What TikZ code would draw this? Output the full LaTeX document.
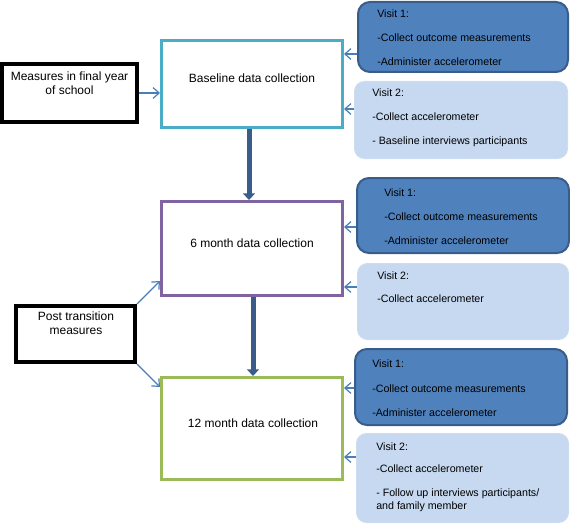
\documentclass[tikz,border=0pt]{standalone}
\usepackage{fontspec}
\setmainfont{Liberation Sans}
\usetikzlibrary{arrows.meta}

\definecolor{basecol}{HTML}{4BACC6}
\definecolor{sixcol}{HTML}{8064A2}
\definecolor{twelvecol}{HTML}{9BBB59}
\definecolor{visitdark}{HTML}{4F81BD}
\definecolor{visitedge}{HTML}{385D8A}
\definecolor{visitlight}{HTML}{C6D9F1}
\definecolor{arrowcol}{HTML}{4A7EBB}

\begin{document}
\begin{tikzpicture}[x=0.75pt,y=0.75pt,yscale=-1,xscale=1,
  stagebox/.style={draw=#1, line width=2.25pt, inner sep=0pt, minimum width=135.75pt},
  sidebox/.style={draw=black, line width=3pt, inner sep=0pt},
  visitone/.style={draw=visitedge, fill=visitdark, line width=1.5pt, rounded corners=9pt, inner sep=0pt},
  visittwo/.style={draw=visitlight!90!white, fill=visitlight, line width=0.75pt, rounded corners=7.5pt, inner sep=0pt},
  boxtext/.style={inner sep=0pt, align=center, font=\fontsize{9}{10.5}\selectfont},
  visittext/.style={inner sep=0pt, anchor=north west, align=left, font=\fontsize{8}{9.75}\selectfont},
  thinarr/.style={draw=arrowcol, line width=0.9pt, -{Straight Barb[length=4.5pt,width=8pt]}},
  bigarr/.style={draw=visitedge, line width=3.75pt, -{Triangle[length=5pt,width=9pt]}}
]
\useasboundingbox (0,0) rectangle (570,524);

%Shape: Rectangle [stage boxes]
\node [stagebox=basecol, minimum height=65.25pt] (base) at (252,84) {};
\node [stagebox=sixcol, minimum height=70.5pt] (six) at (252,248.5) {};
\node [stagebox=twelvecol, minimum height=76.5pt] (twelve) at (252,428.5) {};

%Shape: Rectangle [left boxes]
\node [sidebox, minimum width=101.25pt, minimum height=43.5pt] (final) at (69.5,93) {};
\node [sidebox, minimum width=89.25pt, minimum height=42pt] (post) at (75.5,334) {};

%Shape: Rounded Rect [visit boxes]
\node [visitone, minimum width=157.5pt, minimum height=52.5pt] (v1a) at (463,37) {};
\node [visittwo, minimum width=159.75pt, minimum height=57.75pt] (v2a) at (461,120) {};
\node [visitone, minimum width=159pt, minimum height=56.25pt] (v1b) at (463,215.5) {};
\node [visittwo, minimum width=158.25pt, minimum height=57pt] (v2b) at (463,301.5) {};
\node [visitone, minimum width=159pt, minimum height=57pt] (v1c) at (461,387) {};
\node [visittwo, minimum width=159pt, minimum height=66.75pt] (v2c) at (462.5,478) {};

%Straight Lines [arrows]
\draw [bigarr] (base.south -| 249,0) -- (six.north -| 249,0);
\draw [bigarr] (six.south -| 253,0) -- (twelve.north -| 253,0);
\draw [thinarr] (final.east) -- (base.west |- final.east);
\draw [thinarr] (post.north east) -- (six.west |- 0,281);
\draw [thinarr] (post.south east) -- (twelve.west |- 0,387);
\draw [thinarr] (v1a.west |- 0,54) -- (base.east |- 0,54);
\draw [thinarr] (v2a.west |- 0,109) -- (base.east |- 0,109);
\draw [thinarr] (v1b.west |- 0,227) -- (six.east |- 0,227);
\draw [thinarr] (v2b.west |- 0,287) -- (six.east |- 0,287);
\draw [thinarr] (v1c.west |- 0,388) -- (twelve.east |- 0,388);
\draw [thinarr] (v2c.west |- 0,457) -- (twelve.east |- 0,457);

% Text Node
\node [boxtext] (baset) at (252,78) {Baseline data collection};
% Text Node
\node [boxtext] (sixt) at (252,243) {6 month data collection};
% Text Node
\node [boxtext] (twelvet) at (253,423) {12 month data collection};
% Text Node
\node [boxtext] (finalt) at (69.5,83) {Measures in final year\\of school};
% Text Node
\node [boxtext] (postt) at (76,323.5) {Post transition\\measures};
% Text Node
\node [visittext] (v1at) at (377,10) {Visit 1:\\[8.25pt]-Collect outcome measurements\\[8.25pt]-Administer accelerometer};
% Text Node
\node [visittext] (v2at) at (372,89) {Visit 2:\\[8.25pt]-Collect accelerometer\\[8.25pt]- Baseline interviews participants};
% Text Node
\node [visittext] (v1bt) at (384,189) {Visit 1:\\[8.25pt]-Collect outcome measurements\\[8.25pt]-Administer accelerometer};
% Text Node
\node [visittext] (v2bt) at (377,272) {Visit 2:\\[7.5pt]-Collect accelerometer};
% Text Node
\node [visittext] (v1ct) at (372,360) {Visit 1:\\[8.25pt]-Collect outcome measurements\\[8.25pt]-Administer accelerometer};
% Text Node
\node [visittext] (v2ct) at (376,442) {Visit 2:\\[7pt]-Collect accelerometer\\[8.25pt]- Follow up interviews participants/\\and family member};

\end{tikzpicture}
\end{document}
